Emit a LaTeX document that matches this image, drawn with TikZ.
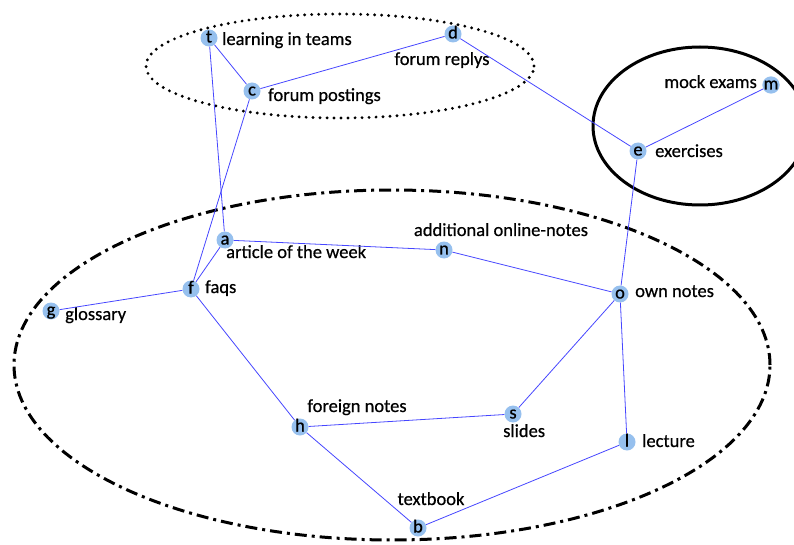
\documentclass[tikz,border=0pt]{standalone}
\usepackage{fontspec}
\setmainfont{Carlito}
\newfontfamily\lblfont{Carlito}[FakeBold=0.6]
\definecolor{vfill}{RGB}{150,192,238}
\definecolor{eblue}{RGB}{70,70,255}
\begin{document}
\begin{tikzpicture}[x=1pt,y=-1pt,
  vtx/.style={circle,fill=vfill,inner sep=0pt,minimum size=17pt,text height=9pt,text depth=0pt,font=\lblfont\fontsize{18.5}{20}\selectfont},
  lbl/.style={inner sep=0pt,font=\lblfont\fontsize{18.5}{20}\selectfont},
  edge/.style={draw=eblue,line width=0.8pt},
  grp/.style={draw=black,line width=3pt}]
\useasboundingbox (0,0) rectangle (794,545);
\clip (0,0) rectangle (794,545);
% group ellipses
\draw[grp,line width=3.2pt,line cap=round,dash pattern=on 0pt off 7pt] (340,66) ellipse [x radius=194pt, y radius=52pt];
\draw[grp] (700,126) ellipse [x radius=107pt, y radius=79pt];
\draw[grp,dash pattern=on 12pt off 5pt on 3pt off 5pt] (392,365) ellipse [x radius=378pt, y radius=175pt];
% vertices
\node[vtx] (t) at (209,38) {t};
\node[vtx] (d) at (453,34) {d};
\node[vtx] (c) at (252,91) {c};
\node[vtx] (m) at (771,85) {m};
\node[vtx] (e) at (638,151) {e};
\node[vtx] (a) at (225,240) {a};
\node[vtx] (n) at (444,250) {n};
\node[vtx] (f) at (191,289) {f};
\node[vtx] (g) at (51,311) {g};
\node[vtx] (o) at (620,294) {o};
\node[vtx] (h) at (300,427) {h};
\node[vtx] (s) at (513,414) {s};
\node[vtx] (l) at (627,442) {l};
\node[vtx] (b) at (418,528) {b};
% labels
\node[lbl,anchor=base west] (lt) at (222,45) {learning in teams};
\node[lbl,anchor=base] (ld) at (442,65) {forum replys};
\node[lbl,anchor=base west] (lc) at (268,101) {forum postings};
\node[lbl,anchor=base east] (lm) at (757,88) {mock exams};
\node[lbl,anchor=base west] (le) at (655,157) {exercises};
\node[lbl,anchor=base west] (la) at (226,258) {article of the week};
\node[lbl,anchor=base] (ln) at (501,236) {additional online-notes};
\node[lbl,anchor=base west] (lf) at (205,293) {faqs};
\node[lbl,anchor=base west] (lg) at (65,320) {glossary};
\node[lbl,anchor=base west] (lo) at (635,297) {own notes};
\node[lbl,anchor=base] (lh) at (357,412) {foreign notes};
\node[lbl,anchor=base west] (ls) at (503,437) {slides};
\node[lbl,anchor=base west] (ll) at (642,447) {lecture};
\node[lbl,anchor=base] (lb) at (431,505) {textbook};
% edges
\draw[edge] (t) -- (c);
\draw[edge] (t) -- (a);
\draw[edge] (c) -- (d);
\draw[edge] (c) -- (f);
\draw[edge] (d) -- (e);
\draw[edge] (e) -- (m);
\draw[edge] (e) -- (o);
\draw[edge] (a) -- (n);
\draw[edge] (a) -- (f);
\draw[edge] (n) -- (o);
\draw[edge] (f) -- (g);
\draw[edge] (f) -- (h);
\draw[edge] (o) -- (s);
\draw[edge] (o) -- (l);
\draw[edge] (h) -- (s);
\draw[edge] (h) -- (b);
\draw[edge] (b) -- (l);
\end{tikzpicture}
\end{document}
